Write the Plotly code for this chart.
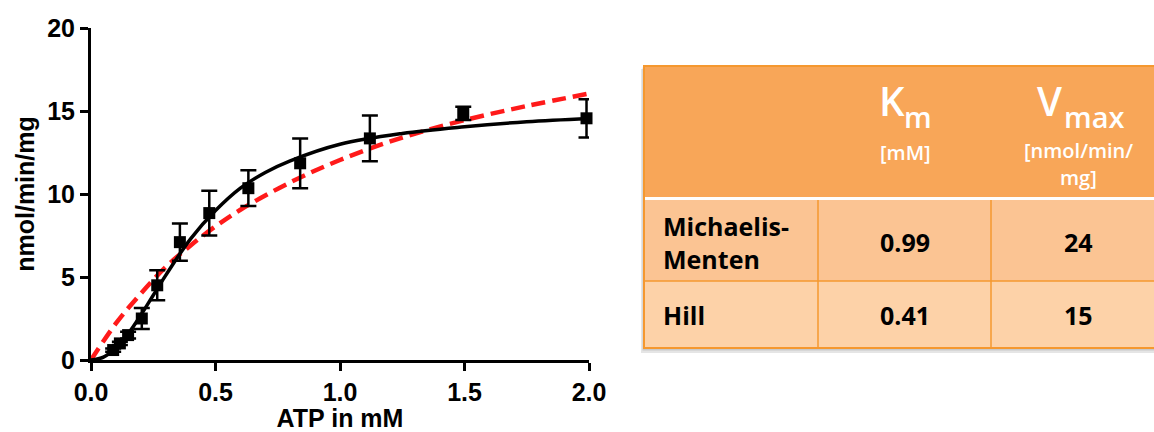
import plotly.graph_objects as go

W, H = 1154, 432

# ---- data ----
atp_mM = [0.089, 0.116, 0.149, 0.204, 0.266, 0.357, 0.475, 0.632, 0.84, 1.12, 1.495, 1.99]
rate = [0.6, 1.0, 1.5, 2.5, 4.5, 7.1, 8.85, 10.35, 11.85, 13.35, 14.86, 14.56]
rate_err = [0.1, 0.1, 0.2, 0.63, 0.9, 1.12, 1.35, 1.08, 1.5, 1.38, 0.4, 1.15]

hill_x = [0, 0.05, 0.1, 0.15, 0.2, 0.25, 0.3, 0.4, 0.5, 0.6, 0.7, 0.8, 1.0, 1.25, 1.5, 1.75, 2.0]
hill_y = [0, 0.17, 0.74, 1.6, 2.7, 3.9, 5.1, 7.3, 9.0, 10.35, 11.3, 12.0, 13.0, 13.65, 14.05, 14.35, 14.55]

mm_x = [0, 0.1, 0.2, 0.3, 0.4, 0.5, 0.6, 0.8, 1.0, 1.25, 1.5, 1.75, 2.0]
mm_y = [0, 2.2, 4.0, 5.6, 6.9, 8.05, 9.05, 10.7, 12.05, 13.4, 14.45, 15.3, 16.05]

x_ticks = [0.0, 0.5, 1.0, 1.5, 2.0]
y_ticks = [0, 5, 10, 15, 20]

table_models = ["Michaelis-<br>Menten", "Hill"]
table_km = ["0.99", "0.41"]
table_vmax = ["24", "15"]


def px(x):
    return x / W


def py(y):
    return 1 - y / H


fig = go.Figure()
fig.add_trace(go.Scatter(x=mm_x, y=mm_y, mode="lines",
                         line=dict(color="#FF1A1A", width=4.5, dash="14px,7px", shape="spline"),
                         showlegend=False, hoverinfo="skip"))
fig.add_trace(go.Scatter(x=hill_x, y=hill_y, mode="lines", line=dict(color="black", width=3.5, shape="spline"),
                         showlegend=False, hoverinfo="skip"))
fig.add_trace(go.Scatter(x=atp_mM, y=rate, mode="markers",
                         marker=dict(symbol="square", size=12, color="black"),
                         error_y=dict(type="data", array=rate_err, color="black", thickness=2.5, width=8),
                         cliponaxis=False, showlegend=False))

tick_font = dict(family="Liberation Sans", size=25, color="black", weight="bold")
fig.update_xaxes(domain=[px(91), px(589)], range=[0, 2], tickvals=x_ticks, tickformat=".1f", automargin=False,
                 showline=True, linewidth=3, linecolor="black", ticks="outside", ticklen=8, tickwidth=3,
                 tickcolor="black", showgrid=False, zeroline=False, tickfont=tick_font,
                 title=dict(text="ATP in mM", font=dict(family="Liberation Sans", size=25, color="black", weight="bold"),
                            standoff=15))
fig.update_yaxes(domain=[py(360), py(28)], range=[0, 20], tickvals=y_ticks, automargin=False,
                 showline=True, linewidth=3, linecolor="black", ticks="outside", ticklen=8, tickwidth=3,
                 tickcolor="black", showgrid=False, zeroline=False, tickfont=tick_font,
                 title=dict(text="nmol/min/mg", font=dict(family="Liberation Sans", size=25, color="black", weight="bold"),
                            standoff=6))

# ---- table ----
L, R = 644, 1170
c1, c2 = 818, 991
top, hdr_bot, r1_top, r1_bot, r2_bot = 66, 197, 200, 281, 348
border = "#F5982F"
shapes = []
# shadow
shapes.append(dict(type="rect", xref="paper", yref="paper", x0=px(L - 3), x1=px(R), y0=py(r2_bot + 5), y1=py(top + 3),
                   fillcolor="rgba(0,0,0,0.10)", line=dict(width=0), layer="below"))
shapes.append(dict(type="rect", xref="paper", yref="paper", x0=px(L - 1.5), x1=px(R), y0=py(r2_bot + 2.5), y1=py(top + 1.5),
                   fillcolor="rgba(0,0,0,0.12)", line=dict(width=0), layer="below"))
shapes.append(dict(type="rect", xref="paper", yref="paper", x0=px(L), x1=px(R), y0=py(hdr_bot), y1=py(top),
                   fillcolor="#F8A658", line=dict(width=0)))
shapes.append(dict(type="rect", xref="paper", yref="paper", x0=px(L), x1=px(R), y0=py(r1_top), y1=py(hdr_bot),
                   fillcolor="white", line=dict(width=0)))
shapes.append(dict(type="rect", xref="paper", yref="paper", x0=px(L), x1=px(R), y0=py(r1_bot), y1=py(r1_top),
                   fillcolor="#FBC493", line=dict(width=0)))
shapes.append(dict(type="rect", xref="paper", yref="paper", x0=px(L), x1=px(R), y0=py(r2_bot), y1=py(r1_bot),
                   fillcolor="#FDD2A8", line=dict(width=0)))
# borders
shapes.append(dict(type="rect", xref="paper", yref="paper", x0=px(L), x1=px(R), y0=py(r2_bot), y1=py(top),
                   fillcolor="rgba(0,0,0,0)", line=dict(color=border, width=2)))
for cx in (c1, c2):
    shapes.append(dict(type="line", xref="paper", yref="paper", x0=px(cx), x1=px(cx), y0=py(r2_bot), y1=py(r1_top),
                       line=dict(color=border, width=1.5)))
shapes.append(dict(type="line", xref="paper", yref="paper", x0=px(L), x1=px(R), y0=py(r1_bot), y1=py(r1_bot),
                   line=dict(color=border, width=1.5)))

ann = []
tf = "Open Sans"


def add_text(text, x, y, size, color, xanchor="center", weight="bold"):
    ann.append(dict(text=text, x=px(x), y=py(y), xref="paper", yref="paper", xanchor=xanchor, yanchor="middle",
                    align=xanchor if xanchor != "center" else "center", showarrow=False,
                    font=dict(family=tf, size=size, color=color, weight=weight)))


col2c, col3c = 905, 1078
add_text("K", 892, 100, 40, "white", weight=600)
add_text("m", 918, 116, 29, "white", weight=600)
add_text("V", 1049, 100, 40, "white", weight=600)
add_text("max", 1094, 116, 29, "white", weight=600)
add_text("[mM]", col2c, 152, 20, "white", weight=600)
add_text("[nmol/min/", col3c, 151, 20, "white", weight=600)
add_text("mg]", col3c, 178, 20, "white", weight=600)

row_y = [242, 315]
for i in range(2):
    add_text(table_models[i], 661, row_y[i], 25, "black", xanchor="left")
    add_text(table_km[i], col2c, row_y[i], 25, "black")
    add_text(table_vmax[i], col3c, row_y[i], 25, "black")

fig.update_layout(width=W, height=H, margin=dict(l=0, r=0, t=0, b=0, autoexpand=False), paper_bgcolor="white",
                  plot_bgcolor="white", shapes=shapes, annotations=ann)
fig.write_html("out.html")
